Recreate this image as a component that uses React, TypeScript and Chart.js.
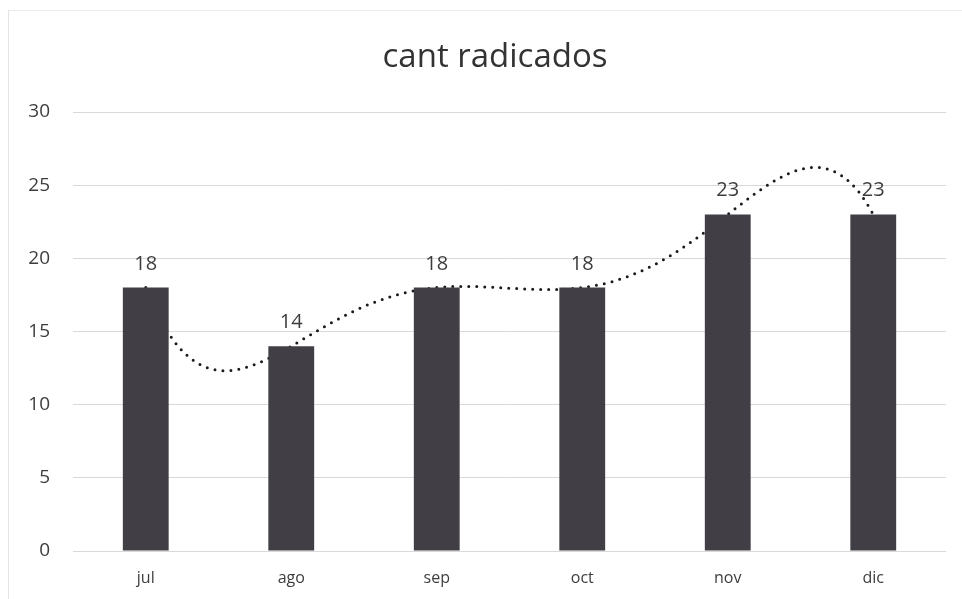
import React, { useEffect, useRef } from "react";
import { Chart, registerables } from "chart.js";

Chart.register(...registerables);

const TITLE = "cant radicados";
const MONTHS = ["jul", "ago", "sep", "oct", "nov", "dic"];
const RADICADOS = [18, 14, 18, 18, 23, 23];
const Y_TICKS = [0, 5, 10, 15, 20, 25, 30];
const TREND_ORDER = 5; // Excel polynomial trendline order
const TREND_STEP = 0.05;

// Least-squares polynomial fit (same as Excel's polynomial trendline), x = 1..n
function polyFit(ys: number[], order: number) {
  const n = ys.length;
  const xs = ys.map((_, i) => i + 1);
  const c = (n + 1) / 2;
  const m = order + 1;
  const A: number[][] = Array.from({ length: m }, () => new Array(m + 1).fill(0));
  for (let k = 0; k < n; k++) {
    const t = xs[k] - c;
    for (let i = 0; i < m; i++) {
      for (let j = 0; j < m; j++) A[i][j] += Math.pow(t, i + j);
      A[i][m] += Math.pow(t, i) * ys[k];
    }
  }
  for (let col = 0; col < m; col++) {
    let piv = col;
    for (let r = col + 1; r < m; r++) if (Math.abs(A[r][col]) > Math.abs(A[piv][col])) piv = r;
    [A[col], A[piv]] = [A[piv], A[col]];
    for (let r = 0; r < m; r++) {
      if (r === col) continue;
      const f = A[r][col] / A[col][col];
      for (let k = col; k <= m; k++) A[r][k] -= f * A[col][k];
    }
  }
  const coef = A.map((row, i) => row[m] / row[i]);
  return (x: number) => {
    const t = x - c;
    let s = 0;
    for (let i = m - 1; i >= 0; i--) s = s * t + coef[i];
    return s;
  };
}

const trendFn = polyFit(RADICADOS, TREND_ORDER);
const trendPoints: { x: number; y: number }[] = [];
for (let i = 0; i <= (RADICADOS.length - 1) / TREND_STEP + 1e-9; i++) {
  const xi = Math.min(i * TREND_STEP, RADICADOS.length - 1);
  trendPoints.push({ x: xi, y: trendFn(xi + 1) });
}

const TEXT = "#3d3d3d";
const FONT = '"Open Sans", "DejaVu Sans", sans-serif';

const titlePlugin = {
  id: "titleText",
  afterDraw(chart: any) {
    const ctx = chart.ctx;
    ctx.save();
    ctx.font = `33px ${FONT}`;
    ctx.fillStyle = "#333333";
    ctx.textAlign = "center";
    ctx.textBaseline = "alphabetic";
    ctx.fillText(TITLE, 495, 67);
    ctx.restore();
  },
};

const labelPlugin = {
  id: "barLabels",
  afterDatasetsDraw(chart: any) {
    const ctx = chart.ctx;
    const meta = chart.getDatasetMeta(0);
    ctx.save();
    ctx.font = `20px ${FONT}`;
    ctx.fillStyle = TEXT;
    ctx.textAlign = "center";
    ctx.textBaseline = "alphabetic";
    meta.data.forEach((bar: any, i: number) => {
      ctx.fillText(String(RADICADOS[i]), bar.x, bar.y - 18);
    });
    ctx.restore();
  },
};

export default function App() {
  const ref = useRef<HTMLCanvasElement | null>(null);

  useEffect(() => {
    if (!ref.current) return;
    const chart = new Chart(ref.current, {
      type: "bar",
      data: {
        labels: MONTHS,
        datasets: [
          {
            type: "bar",
            label: TITLE,
            data: RADICADOS,
            xAxisID: "x",
            yAxisID: "y",
            backgroundColor: "#413f45",
            barPercentage: 0.315,
            categoryPercentage: 1,
            grouped: false,
            order: 1,
          } as any,
          {
            type: "line",
            label: "Polinómica",
            data: trendPoints,
            xAxisID: "x2",
            yAxisID: "y",
            borderColor: "#1a1a1a",
            borderWidth: 3,
            borderDash: [0, 8],
            borderCapStyle: "round",
            pointRadius: 0,
            tension: 0,
            fill: false,
            order: 2,
          } as any,
        ],
      },
      options: {
        animation: false,
        responsive: true,
        maintainAspectRatio: false,
        layout: { padding: { left: 0, right: 16, top: 112, bottom: 0 } },
        plugins: {
          legend: { display: false },
          title: { display: false },
          tooltip: { enabled: false },
        },
        scales: {
          x: {
            type: "category",
            offset: true,
            grid: { display: false, drawTicks: false },
            border: { display: false },
            ticks: {
              color: TEXT,
              font: { family: FONT, size: 16 },
              padding: 18,
            },
            afterFit: (s: any) => {
              s.height = 48;
              s.paddingLeft = 0;
              s.paddingRight = 0;
            },
          },
          x2: {
            type: "linear",
            display: false,
            offset: false,
            min: -0.5,
            max: RADICADOS.length - 0.5,
          },
          y: {
            min: 0,
            max: 30,
            grid: { color: "#d9d9d9", lineWidth: 1, drawTicks: false },
            border: { display: false },
            ticks: {
              color: TEXT,
              font: { family: FONT, size: 19 },
              padding: 23,
            },
            afterBuildTicks: (s: any) => {
              s.ticks = Y_TICKS.map((v) => ({ value: v }));
            },
            afterFit: (s: any) => {
              s.width = 73;
              s.paddingTop = 0;
              s.paddingBottom = 0;
            },
          },
        },
      } as any,
      plugins: [titlePlugin, labelPlugin],
    });
    return () => chart.destroy();
  }, []);

  return (
    <div style={{ position: "absolute", left: 0, top: 0, width: 962, height: 599, background: "#fff" }}>
      <div
        style={{
          position: "absolute",
          left: 8,
          top: 10,
          right: 0,
          bottom: 0,
          borderLeft: "1px solid #e4e4e4",
          borderTop: "1px solid #ececec",
        }}
      />
      <canvas ref={ref} style={{ position: "absolute", left: 0, top: 0, width: 962, height: 599 }} />
    </div>
  );
}
